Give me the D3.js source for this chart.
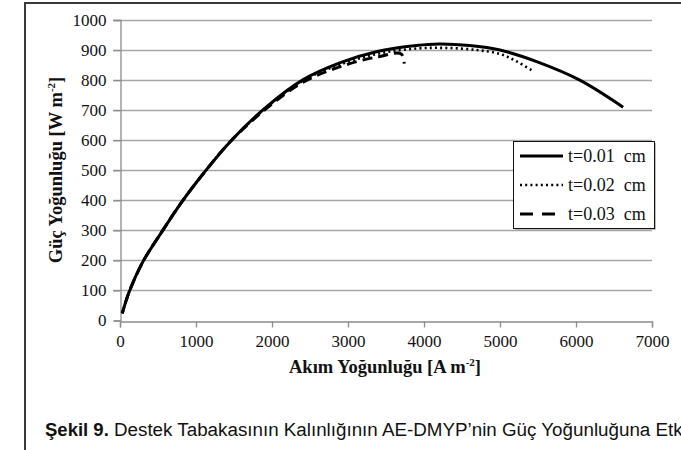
<!DOCTYPE html>
<html>
<head>
<meta charset="utf-8">
<script src="https://cdn.jsdelivr.net/npm/d3@7"></script>
<style>
  body { margin: 0; background: #fff; }
  svg { display: block; }
</style>
</head>
<body>
<div id="chart"></div>
<script>
// ---- data ----
// current density [A m-2] and power density [W m-2] for each thickness
var seriesNames = ["t=0.01  cm", "t=0.02  cm", "t=0.03  cm"];

var iT001 = [30, 120, 300, 550, 800, 1100, 1450, 1900, 2400, 2900, 3400, 3900, 4200, 4600, 5000, 5500, 6050, 6620];
var pT001 = [24, 95, 195, 295, 390, 490, 595, 705, 800, 858, 896, 915, 920, 915, 900, 860, 800, 710];

var iT002 = [30, 120, 300, 550, 800, 1100, 1450, 1900, 2400, 2900, 3400, 3900, 4300, 4700, 5000, 5220, 5440];
var pT002 = [24, 95, 195, 295, 390, 490, 595, 703, 797, 852, 888, 905, 907, 900, 887, 862, 829];

var iT003 = [30, 120, 300, 550, 800, 1100, 1450, 1900, 2400, 2900, 3400, 3700, 3740];
var pT003 = [24, 95, 195, 295, 390, 490, 595, 700, 792, 845, 878, 887, 855];

var xTicks = [0, 1000, 2000, 3000, 4000, 5000, 6000, 7000];
var yTicks = [0, 100, 200, 300, 400, 500, 600, 700, 800, 900, 1000];

// ---- canvas ----
var width = 681;
var height = 450;

var svg = d3.select("#chart")
    .append("svg")
    .attr("width", width)
    .attr("height", height);

svg.append("rect")
    .attr("width", width)
    .attr("height", height)
    .attr("fill", "#fff");

// page frame (left and top border of the figure box)
svg.append("path")
    .attr("d", "M25,450 L25,3 L681,3")
    .attr("fill", "none")
    .attr("stroke", "#3a3a3a")
    .attr("stroke-width", 2);

// plot area
var plot = { left: 120, right: 652, top: 20, bottom: 320.5 };

var x = d3.scaleLinear().domain([0, 7000]).range([plot.left, plot.right]);
var y = d3.scaleLinear().domain([0, 1000]).range([plot.bottom, plot.top]);

var serif = "'Liberation Serif', 'Times New Roman', serif";

// horizontal gridlines
svg.append("g")
    .selectAll("line")
    .data(yTicks.filter(function(d) { return d > 0; }))
    .enter()
    .append("line")
    .attr("x1", plot.left - 7)
    .attr("x2", plot.right)
    .attr("y1", function(d) { return Math.round(y(d)) + 0.5; })
    .attr("y2", function(d) { return Math.round(y(d)) + 0.5; })
    .attr("stroke", "#a6a6a6")
    .attr("stroke-width", 1.3);

// y axis
var yAxis = d3.axisLeft(y).tickValues(yTicks).tickFormat(d3.format("d")).tickSize(7).tickPadding(7);
var gy = svg.append("g")
    .attr("transform", "translate(" + (plot.left + 0.5) + ",0)")
    .call(yAxis);

// x axis
var xAxis = d3.axisBottom(x).tickValues(xTicks).tickFormat(d3.format("d")).tickSize(6).tickPadding(7);
var gx = svg.append("g")
    .attr("transform", "translate(0," + (Math.round(plot.bottom) + 0.5) + ")")
    .call(xAxis);

[gx, gy].forEach(function(g) {
    g.attr("font-family", serif).attr("font-size", 17);
    g.select(".domain").attr("stroke", "#8c8c8c").attr("stroke-width", 1.3);
    g.selectAll(".tick line").attr("stroke", "#8c8c8c").attr("stroke-width", 1.3);
    g.selectAll(".tick text").attr("fill", "#111");
});

// axis titles
var xTitle = svg.append("text")
    .attr("x", 385)
    .attr("y", 373)
    .attr("text-anchor", "middle")
    .style("font-family", serif)
    .style("font-size", "18.5px")
    .style("font-weight", "bold")
    .attr("fill", "#111");
xTitle.append("tspan").text("Akım Yoğunluğu [A m");
xTitle.append("tspan").attr("dy", -7).style("font-size", "11px").text("-2");
xTitle.append("tspan").attr("dy", 7).text("]");

var yTitle = svg.append("text")
    .attr("transform", "translate(62,170) rotate(-90)")
    .attr("text-anchor", "middle")
    .style("font-family", serif)
    .style("font-size", "18.5px")
    .style("font-weight", "bold")
    .attr("fill", "#111");
yTitle.append("tspan").text("Güç Yoğunluğu [W m");
yTitle.append("tspan").attr("dy", -7).style("font-size", "11px").text("-2");
yTitle.append("tspan").attr("dy", 7).text("]");

// ---- series ----
var styles = [
    { dash: null, width: 3 },
    { dash: "2,3.2", width: 2.6 },
    { dash: "10,6", width: 3 }
];
var series = [
    d3.zip(iT001, pT001),
    d3.zip(iT002, pT002),
    d3.zip(iT003, pT003)
];

var line = d3.line()
    .x(function(d) { return x(d[0]); })
    .y(function(d) { return y(d[1]); })
    .curve(d3.curveCatmullRom.alpha(0.5));

// draw t=0.03 and t=0.02 first, solid on top like the figure
[2, 1, 0].forEach(function(k) {
    var p = svg.append("path")
        .datum(series[k])
        .attr("d", line)
        .attr("fill", "none")
        .attr("stroke", "#000")
        .attr("stroke-width", styles[k].width)
        .attr("stroke-dasharray", styles[k].dash);
    if (k === 2) {
        // phase the dashes so the last drop shows only as a short stub
        var L = p.node().getTotalLength();
        p.attr("stroke-dashoffset", ((2 - L) % 16 + 16) % 16);
    }
});

// ---- legend ----
var lg = svg.append("g").attr("transform", "translate(513,141)");
lg.append("rect")
    .attr("x", 2).attr("y", 2)
    .attr("width", 141).attr("height", 87)
    .attr("fill", "#bdbdbd");
lg.append("rect")
    .attr("x", 0.5).attr("y", 0.5)
    .attr("width", 141).attr("height", 87)
    .attr("fill", "#fff")
    .attr("stroke", "#111")
    .attr("stroke-width", 1);

seriesNames.forEach(function(name, k) {
    var cy = 15 + k * 29;
    lg.append("line")
        .attr("x1", 7).attr("x2", 50)
        .attr("y1", cy).attr("y2", cy)
        .attr("stroke", "#000")
        .attr("stroke-width", styles[k].width)
        .attr("stroke-dasharray", k === 2 ? "13,9" : styles[k].dash);
    lg.append("text")
        .attr("x", 55)
        .attr("y", cy + 6)
        .style("font-family", serif)
        .style("font-size", "18px")
        .style("white-space", "pre")
        .attr("fill", "#111")
        .text(name);
});

// ---- caption (runs past the right edge, as in the source page) ----
var cap = svg.append("text")
    .attr("x", 45)
    .attr("y", 436)
    .style("font-family", "'Liberation Sans', Arial, sans-serif")
    .attr("fill", "#111");
cap.append("tspan").style("font-weight", "bold").style("font-size", "18.5px").text("Şekil 9.");
cap.append("tspan").style("font-size", "18.8px").text(" Destek Tabakasının Kalınlığının AE-DMYP’nin Güç Yoğunluğuna Etkisi");
</script>
</body>
</html>
